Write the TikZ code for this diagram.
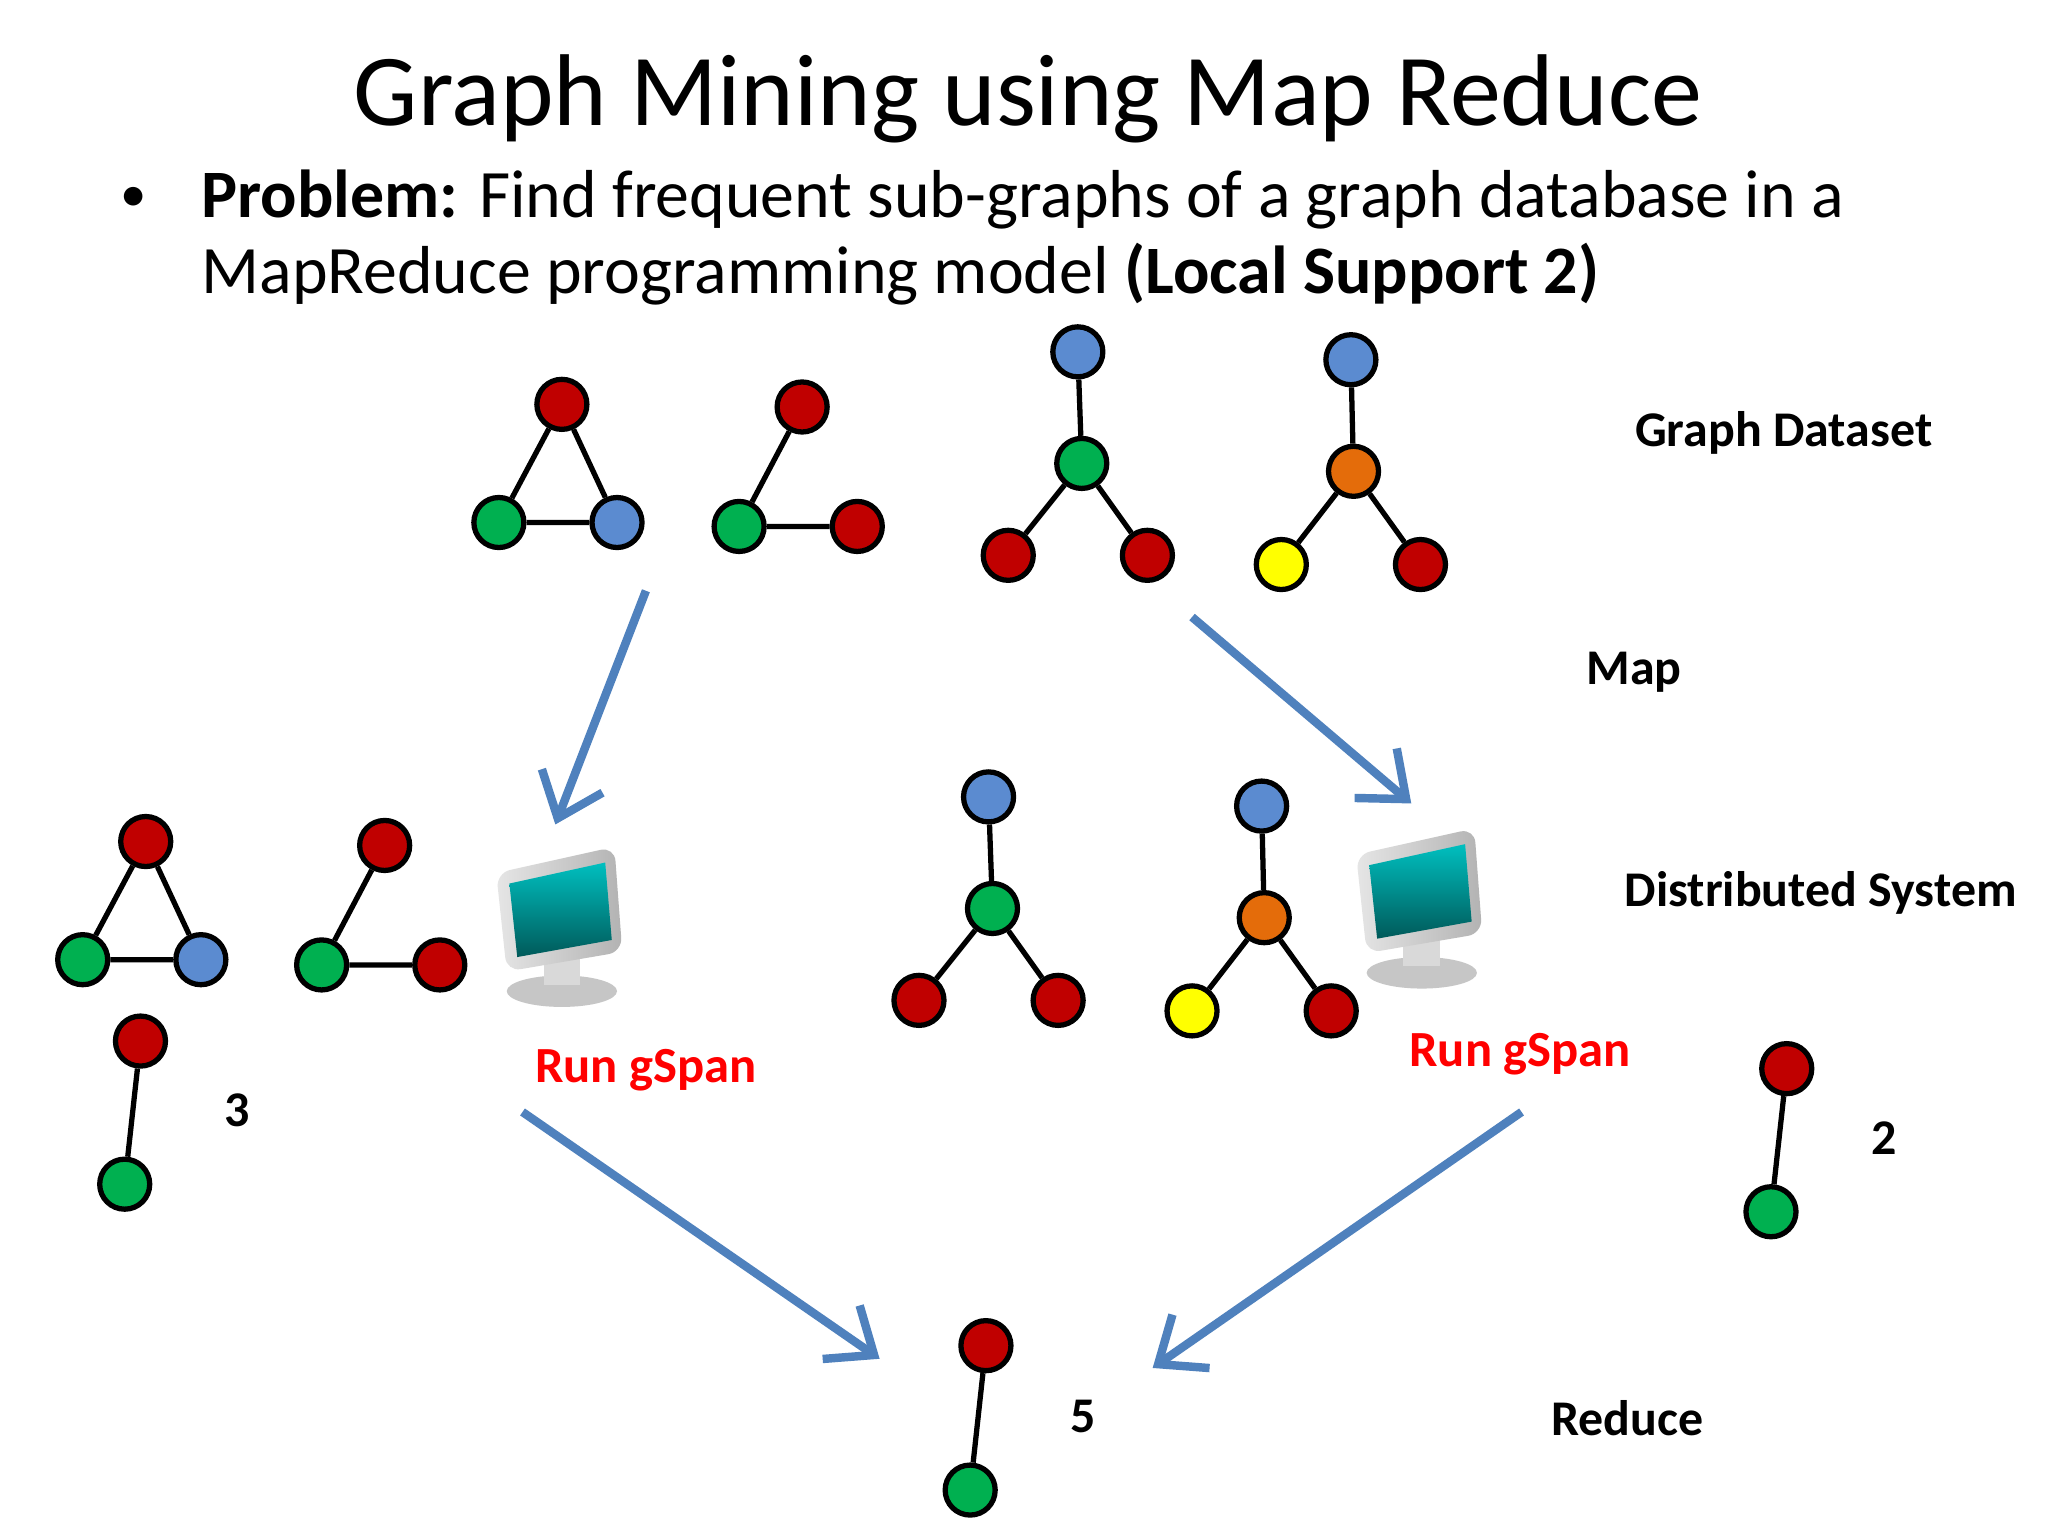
\documentclass[tikz,border=0pt]{standalone}
\usepackage{fontspec}
\setmainfont{Carlito}
\usetikzlibrary{arrows.meta}
\definecolor{gr}{HTML}{C00000}
\definecolor{gg}{HTML}{00B050}
\definecolor{gb}{HTML}{5B8BD0}
\definecolor{go}{HTML}{E46C0A}
\definecolor{gy}{HTML}{FFFF00}
\definecolor{ar}{HTML}{4F81BD}
\tikzset{
 v/.style={circle,draw=black,line width=1.5pt,minimum size=0.5cm,inner sep=0pt},
 R/.style={v,fill=gr},G/.style={v,fill=gg},B/.style={v,fill=gb},O/.style={v,fill=go},Y/.style={v,fill=gy},
 e/.style={line width=1.5pt},
 big/.style={-{Straight Barb[length=0.4cm,width=0.65cm,line width=2.4pt]},draw=ar,line width=2.4pt},
 lab/.style={font=\fontsize{14.2}{17}\selectfont\bfseries,anchor=west,inner sep=0pt},
 run/.style={font=\fontsize{14.4}{17}\selectfont\bfseries,text=red,anchor=west,inner sep=0pt}
}
\begin{document}
\begin{tikzpicture}[x=0.013128cm,y=-0.013128cm]
\useasboundingbox[fill=white] (0,0) rectangle (1560,1170);
\node[font=\fontsize{29}{34}\selectfont] (title) at (783,75) {Graph Mining using Map Reduce};
\node[font=\fontsize{15}{18}\selectfont] (bul) at (102,152) {•};
\node[font=\fontsize{19.3}{21.5}\selectfont,anchor=west,align=left,inner sep=0pt] (txt) at (153,181)
 {\textbf{Problem:} Find frequent sub-graphs of a graph database in a\\ MapReduce programming model \textbf{(Local Support 2)}};
\def\tri#1#2#3{%
 \node[R] (#1a) at (#2+0,#3+0) {}; \node[G] (#1b) at (#2-48,#3+90) {}; \node[B] (#1c) at (#2+42,#3+90) {};
 \draw[e] (#1a)--(#1b)--(#1c)--(#1a);}
\def\pth#1#2#3{%
 \node[R] (#1a) at (#2+0,#3+0) {}; \node[G] (#1b) at (#2-48,#3+91) {}; \node[R] (#1c) at (#2+42,#3+91) {};
 \draw[e] (#1a)--(#1b)--(#1c);}
\def\stara#1#2#3{%
 \node[B] (#1a) at (#2+0,#3+0) {}; \node[G] (#1b) at (#2+3,#3+85) {}; \node[R] (#1c) at (#2-53,#3+155) {}; \node[R] (#1d) at (#2+53,#3+155) {};
 \draw[e] (#1a)--(#1b)--(#1c) (#1b)--(#1d);}
\def\starb#1#2#3{%
 \node[B] (#1a) at (#2+0,#3+0) {}; \node[O] (#1b) at (#2+2,#3+85) {}; \node[Y] (#1c) at (#2-53,#3+156) {}; \node[R] (#1d) at (#2+53,#3+156) {};
 \draw[e] (#1a)--(#1b)--(#1c) (#1b)--(#1d);}
\tri{t1}{428}{308}
\pth{p1}{611}{310}
\stara{s1}{821}{268}
\starb{u1}{1029}{274}
\tri{t2}{111}{641}
\pth{p2}{293}{644}
\stara{s2}{753}{607}
\starb{u2}{961}{614}
\node[R] (l1) at (107,793) {}; \node[G] (l2) at (95,902) {}; \draw[e] (l1)--(l2);
\node[R] (r1) at (1361,814) {}; \node[G] (r2) at (1349,923) {}; \draw[e] (r1)--(r2);
\node[R] (b1) at (751,1025) {}; \node[G] (b2) at (739,1135) {}; \draw[e] (b1)--(b2);
\node[font=\fontsize{14.2}{17}\selectfont\bfseries] (n3) at (181,846) {3};
\node[font=\fontsize{14.2}{17}\selectfont\bfseries] (n2) at (1435,867) {2};
\node[font=\fontsize{14.2}{17}\selectfont\bfseries] (n5) at (825,1079) {5};
\foreach \cx/\cy/\nm in {428/700/c1, 1083/686/c2}{
 \fill[gray!45] (\cx,\cy+55) ellipse (42 and 12);
 \fill[gray!30] (\cx-14,\cy+20) rectangle (\cx+14,\cy+50);
 \shade[left color=gray!20,right color=gray!60,rounded corners=4] (\cx-50,\cy-35) -- (\cx+40,\cy-55) -- (\cx+46,\cy+25) -- (\cx-42,\cy+40) -- cycle;
 \shade[top color=cyan!50!teal,bottom color=teal!70!black] (\cx-40,\cy-27) -- (\cx+33,\cy-43) -- (\cx+38,\cy+16) -- (\cx-34,\cy+29) -- cycle;
 \coordinate (\nm) at (\cx,\cy);
}
\coordinate (a1s) at (492,450); \coordinate (a1e) at (423,628);
\coordinate (a2s) at (908,470); \coordinate (a2e) at (1075,612);
\coordinate (a3s) at (398,847); \coordinate (a3e) at (670,1035);
\coordinate (a4s) at (1159,847); \coordinate (a4e) at (878,1042);
\draw[big] (a1s)--(a1e);
\draw[big] (a2s)--(a2e);
\draw[big] (a3s)--(a3e);
\draw[big] (a4s)--(a4e);
\node[lab] (gd) at (1245,330) {Graph Dataset};
\node[lab] (mp) at (1208,512) {Map};
\node[lab] (ds) at (1237,680) {Distributed System};
\node[lab] (rd) at (1181,1080) {Reduce};
\node[run] (rg1) at (407,815) {Run gSpan};
\node[run] (rg2) at (1073,803) {Run gSpan};
\end{tikzpicture}
\end{document}
